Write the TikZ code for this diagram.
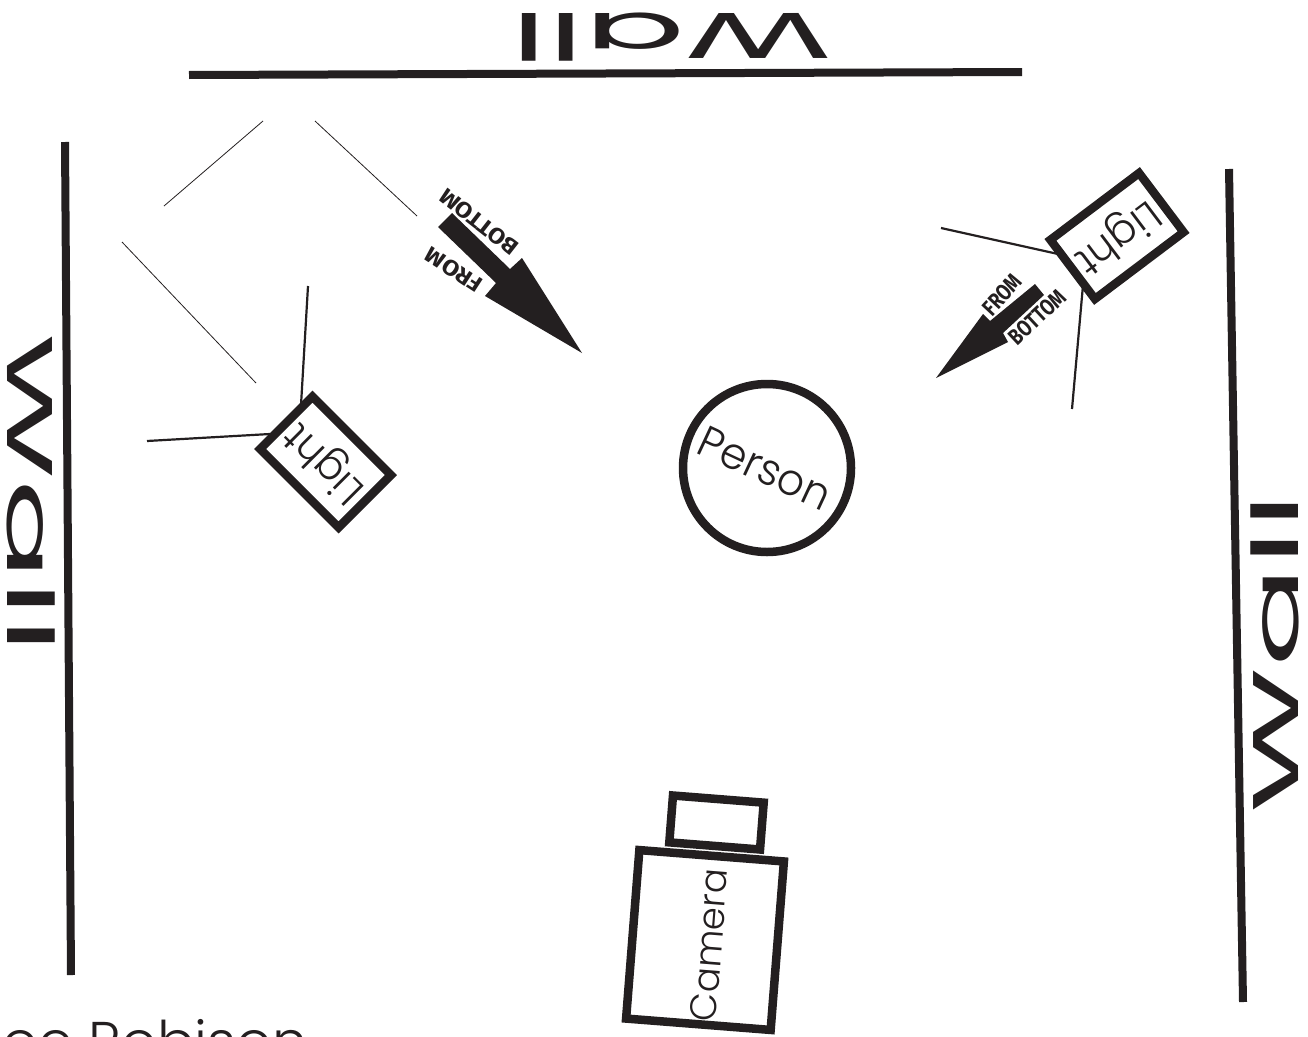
\documentclass[tikz,border=0pt]{standalone}
\usepackage{fontspec}
\setmainfont{Poppins}[UprightFont=* Light]
\newfontfamily\wallfont{Poppins}
\newfontfamily\notefont{Fira Sans}
\definecolor{ink}{RGB}{35,31,32}
\tikzset{
  wallline/.style={draw=ink,line width=8pt},
  thinline/.style={draw=ink,line width=0.8pt},
  standline/.style={draw=ink,line width=2.2pt},
  boxnode/.style={draw=ink,line width=8.5pt,fill=white,inner sep=0pt,text=ink},
  walltext/.style={text=ink,inner sep=0pt,font=\wallfont\fontsize{86}{86}\selectfont},
  wallscale/.style={xscale=1.74,yscale=.75},
  lighttext/.style={font=\fontsize{41}{41}\selectfont},
  notebig/.style={text=ink,inner sep=0pt,font=\notefont\bfseries\fontsize{22}{22}\selectfont},
  notesmall/.style={text=ink,inner sep=0pt,font=\notefont\bfseries\fontsize{19}{19}\selectfont},
  arrowshape/.style={fill=ink,draw=none},
}
\begin{document}
\begin{tikzpicture}[x=1pt,y=-1pt]
\useasboundingbox (0,0) rectangle (1308,1036);
% walls
\coordinate (wt1) at (189,75); \coordinate (wt2) at (1022,72);
\coordinate (wl1) at (65,142); \coordinate (wl2) at (71,975);
\coordinate (wr1) at (1229,169); \coordinate (wr2) at (1243,1002);
\draw[wallline] (wt1) -- (wt2);
\draw[wallline] (wl1) -- (wl2);
\draw[wallline] (wr1) -- (wr2);
\node[walltext,rotate=180,wallscale] (walltop) at (671.5,37) {Wall};
\node[walltext,rotate=-90,wallscale] (wallleft) at (31,494) {Wall};
\node[walltext,rotate=90,wallscale] (wallright) at (1275,653) {Wall};
% free lines
\coordinate (t1a) at (263,121); \coordinate (t1b) at (164,206);
\coordinate (t2a) at (315,121); \coordinate (t2b) at (417,216);
\coordinate (t3a) at (122,242); \coordinate (t3b) at (256,383);
\draw[thinline] (t1a) -- (t1b);
\draw[thinline] (t2a) -- (t2b);
\draw[thinline] (t3a) -- (t3b);
% stands
\coordinate (sl1a) at (308,286); \coordinate (sl1b) at (301,405);
\coordinate (sl2a) at (147,441); \coordinate (sl2b) at (270,434);
\coordinate (sr1a) at (941,228); \coordinate (sr1b) at (1058,254);
\coordinate (sr2a) at (1072,409); \coordinate (sr2b) at (1083,285);
\draw[standline] (sl1a) -- (sl1b);
\draw[standline] (sl2a) -- (sl2b);
\draw[standline] (sr1a) -- (sr1b);
\draw[standline] (sr2a) -- (sr2b);
% lights
\node[boxnode,lighttext,rotate=135,minimum width=111pt,minimum height=74pt] (lightleft) at (325.5,462) {Light};
\node[boxnode,lighttext,rotate=-143,minimum width=111pt,minimum height=74pt] (lightright) at (1117,236) {Light};
% person
\node[boxnode,circle,minimum size=168pt] (person) at (767,468) {};
\node[rotate=-25,xscale=.96,text=ink,inner sep=0pt,font=\fontsize{44}{44}\selectfont] (persontext) at (765,468) {Person};
% camera
\node[boxnode,rotate=-94.5,minimum width=169pt,minimum height=145pt] (camera) at (705,940) {};
\node[boxnode,rotate=-94.5,minimum width=47pt,minimum height=91pt] (lens) at (716.5,822.5) {};
\node[rotate=85.5,text=ink,inner sep=0pt,font=\fontsize{37}{37}\selectfont] (cameratext) at (709,945) {Camera};
% arrows
\coordinate (a1) at (452,213); \coordinate (a2) at (510,269); \coordinate (a3) at (522,258);
\coordinate (a4) at (582,353); \coordinate (a5) at (485,296); \coordinate (a6) at (496,283); \coordinate (a7) at (438,227);
\fill[arrowshape] (a1) -- (a2) -- (a3) -- (a4) -- (a5) -- (a6) -- (a7) -- cycle;
\coordinate (b1) at (1035,284); \coordinate (b2) at (990,321); \coordinate (b3) at (983,314);
\coordinate (b4) at (936,378); \coordinate (b5) at (1008,342); \coordinate (b6) at (1003,333); \coordinate (b7) at (1044,295);
\fill[arrowshape] (b1) -- (b2) -- (b3) -- (b4) -- (b5) -- (b6) -- (b7) -- cycle;
\node[notebig,rotate=147,xscale=1.12] (from1) at (454,270) {FROM};
\node[notebig,rotate=142,xscale=1.12] (bottom1) at (479,222) {BOTTOM};
\node[notesmall,rotate=47,xscale=.95,yscale=1.2] (from2) at (1002,295) {FROM};
\node[notesmall,rotate=43,xscale=.95,yscale=1.2] (bottom2) at (1037,317) {BOTTOM};
% credit
\node[anchor=base west,text=ink,inner sep=0pt,font=\fontsize{56}{56}\selectfont] (credit) at (-26,1061) {Joe Robison};
\end{tikzpicture}
\end{document}
